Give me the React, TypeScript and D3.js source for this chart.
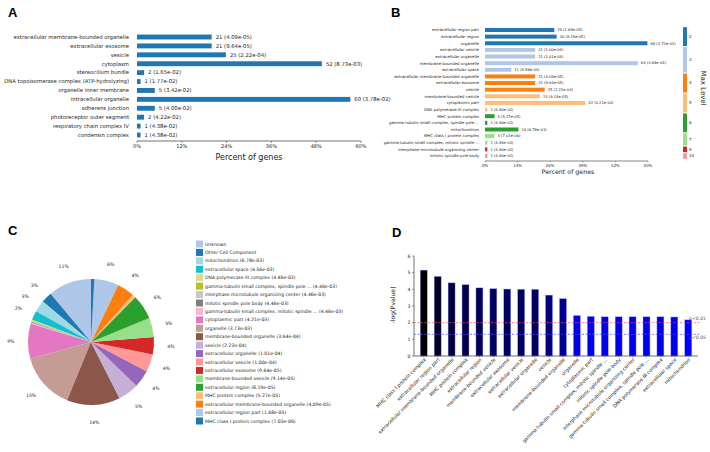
import React, { useRef, useEffect } from 'react';
import * as d3 from 'd3';

const FONT = "DejaVu Sans";
const totalGenes = 105;

// Panel A
const aTerms = [
  "extracellular membrane-bounded organelle", "extracellular exosome", "vesicle", "cytoplasm",
  "stereocilium bundle", "DNA topoisomerase complex (ATP-hydrolyzing)", "organelle inner membrane",
  "intracellular organelle", "adherens junction", "photoreceptor outer segment",
  "respiratory chain complex IV", "condensin complex"
];
const aCounts = [21, 21, 25, 52, 2, 1, 5, 60, 5, 2, 1, 1];
const aPvals = ["4.09e-05", "9.64e-05", "2.22e-04", "8.73e-03", "1.65e-02", "1.77e-02", "3.42e-02",
  "3.78e-02", "4.00e-02", "4.22e-02", "4.38e-02", "4.38e-02"];
const aTicks = [0, 12, 24, 36, 48, 60];

// Panel B
const bTerms = [
  "extracellular region part", "extracellular region", "organelle", "extracellular vesicle",
  "extracellular organelle", "membrane-bounded organelle", "extracellular space",
  "extracellular membrane-bounded organelle", "extracellular exosome", "vesicle",
  "membrane-bounded vesicle", "cytoplasmic part", "DNA polymerase III complex", "MHC protein complex",
  "gamma-tubulin small complex, spindle pole ...", "mitochondrion", "MHC class I protein complex",
  "gamma-tubulin small complex, mitotic spindle ...", "interphase microtubule organizing center",
  "mitotic spindle pole body"
];
const bCounts = [29, 30, 68, 21, 21, 64, 11, 21, 21, 25, 23, 42, 1, 4, 1, 14, 4, 1, 1, 1];
const bPvals = ["1.68e-05", "8.19e-05", "3.73e-03", "1.00e-04", "1.01e-04", "3.64e-04", "4.56e-03",
  "4.09e-05", "9.64e-05", "2.22e-04", "9.14e-05", "4.21e-03", "4.46e-03", "5.27e-05", "4.46e-03",
  "6.78e-03", "7.03e-06", "4.46e-03", "4.46e-03", "4.46e-03"];
const bLevels = [2, 2, 2, 3, 3, 3, 3, 4, 4, 4, 5, 5, 5, 6, 6, 6, 7, 7, 9, 10];
const bTicks = [0, 13, 26, 39, 52, 65];
const levelNames = [2, 3, 4, 5, 6, 7, 9, 10];
const levelColors = ["#1f77b4", "#aec7e8", "#ff7f0e", "#ffbb78", "#2ca02c", "#98df8a", "#d62728", "#ff9896"];

// Panel C
const pieLabels = [
  "Unknown", "Other Cell Component", "mitochondrion (6.78e-03)", "extracellular space (4.56e-03)",
  "DNA polymerase III complex (4.46e-03)", "gamma-tubulin small complex, spindle pole ... (4.46e-03)",
  "interphase microtubule organizing center (4.46e-03)", "mitotic spindle pole body (4.46e-03)",
  "gamma-tubulin small complex, mitotic spindle ... (4.46e-03)", "cytoplasmic part (4.21e-03)",
  "organelle (3.73e-03)", "membrane-bounded organelle (3.64e-04)", "vesicle (2.22e-04)",
  "extracellular organelle (1.01e-04)", "extracellular vesicle (1.00e-04)",
  "extracellular exosome (9.64e-05)", "membrane-bounded vesicle (9.14e-05)",
  "extracellular region (8.19e-05)", "MHC protein complex (5.27e-05)",
  "extracellular membrane-bounded organelle (4.09e-05)", "extracellular region part (1.68e-05)",
  "MHC class I protein complex (7.03e-06)"
];
const pieCounts = [52, 13, 14, 11, 1, 1, 1, 1, 1, 42, 68, 64, 25, 21, 21, 21, 23, 30, 4, 21, 29, 4];
const pieColors = ["#aec7e8", "#1f77b4", "#9edae5", "#17becf", "#dbdb8d", "#bcbd22", "#c7c7c7", "#7f7f7f",
  "#f7b6d2", "#e377c2", "#c49c94", "#8c564b", "#c5b0d5", "#9467bd", "#ff9896", "#d62728", "#98df8a",
  "#2ca02c", "#ffbb78", "#ff7f0e", "#aec7e8", "#1f77b4"];

// Panel D
const dTerms = [
  "MHC class I protein complex", "extracellular region part", "extracellular membrane-bounded organelle",
  "MHC protein complex", "extracellular region", "membrane-bounded vesicle", "extracellular exosome",
  "extracellular vesicle", "extracellular organelle", "vesicle", "membrane-bounded organelle", "organelle",
  "cytoplasmic part", "gamma-tubulin small complex, mitotic spindle ...", "mitotic spindle pole body",
  "interphase microtubule organizing center", "gamma-tubulin small complex, spindle pole ...",
  "DNA polymerase III complex", "extracellular space", "mitochondrion"
];
const dPvals = [7.03e-06, 1.68e-05, 4.09e-05, 5.27e-05, 8.19e-05, 9.14e-05, 9.64e-05, 1.00e-04, 1.01e-04,
  2.22e-04, 3.64e-04, 3.73e-03, 4.21e-03, 4.46e-03, 4.46e-03, 4.46e-03, 4.46e-03, 4.46e-03, 4.56e-03, 6.78e-03];
const dTicks = [0, 1, 2, 3, 4, 5, 6];

const App = () => {
  const svgRef = useRef<SVGSVGElement>(null);

  useEffect(() => {
    const svg = d3.select(svgRef.current);
    svg.selectAll("*").remove();
    svg.append("rect").attr("width", 710).attr("height", 452).attr("fill", "white");

    const letter = (t: string, x: number, y: number) =>
      svg.append("text").attr("x", x).attr("y", y).text(t)
        .attr("font-family", "Liberation Sans").attr("font-weight", "bold").attr("font-size", 13);

    // ---------- A ----------
    letter("A", 8, 17);
    const ax = d3.scaleLinear().domain([0, 60]).range([137, 361]);
    const ay = d3.scalePoint<number>().domain(aTerms.map((_, i) => i)).range([37, 135]);
    const aH = ay.step() * 0.55;
    const gA = svg.append("g").attr("font-family", FONT);
    aTerms.forEach((t, i) => {
      const pct = aCounts[i] / totalGenes * 100;
      const cy = ay(i)!;
      gA.append("rect").attr("x", ax(0)).attr("y", cy - aH / 2)
        .attr("width", ax(pct) - ax(0)).attr("height", aH).attr("fill", "#1f77b4");
      gA.append("text").attr("x", 129).attr("y", cy).attr("dy", "0.35em")
        .attr("text-anchor", "end").attr("font-size", 5.3).attr("fill", "#222").text(t);
      gA.append("text").attr("x", ax(pct) + 4).attr("y", cy).attr("dy", "0.35em")
        .attr("font-size", 5.3).attr("fill", "#222").text(`${aCounts[i]} (${aPvals[i]})`);
    });
    gA.append("line").attr("x1", ax(0)).attr("x2", ax(60)).attr("y1", 141).attr("y2", 141)
      .attr("stroke", "#333").attr("stroke-width", 0.7);
    aTicks.forEach(t => {
      gA.append("line").attr("x1", ax(t)).attr("x2", ax(t)).attr("y1", 141).attr("y2", 143)
        .attr("stroke", "#333").attr("stroke-width", 0.5);
      gA.append("text").attr("x", ax(t)).attr("y", 148).attr("text-anchor", "middle")
        .attr("font-size", 5).attr("fill", "#222").text(`${t}%`);
    });
    gA.append("text").attr("x", 249).attr("y", 160).attr("text-anchor", "middle")
      .attr("font-size", 8).attr("fill", "#222").text("Percent of genes");

    // ---------- B ----------
    letter("B", 391, 17);
    const bx = d3.scaleLinear().domain([0, 65]).range([485, 648]);
    const by = d3.scalePoint<number>().domain(bTerms.map((_, i) => i)).range([30, 156]);
    const bStep = by.step();
    const bH = bStep * 0.6;
    const colorOf = d3.scaleOrdinal<number, string>().domain(levelNames).range(levelColors);
    const gB = svg.append("g").attr("font-family", FONT);
    bTerms.forEach((t, i) => {
      const pct = bCounts[i] / totalGenes * 100;
      const cy = by(i)!;
      gB.append("rect").attr("x", bx(0)).attr("y", cy - bH / 2)
        .attr("width", bx(pct) - bx(0)).attr("height", bH).attr("fill", colorOf(bLevels[i]));
      gB.append("text").attr("x", 479).attr("y", cy).attr("dy", "0.35em")
        .attr("text-anchor", "end").attr("font-size", 3.9).attr("fill", "#222").text(t);
      gB.append("text").attr("x", bx(pct) + 3).attr("y", cy).attr("dy", "0.35em")
        .attr("font-size", 3.7).attr("fill", "#222").text(`${bCounts[i]} (${bPvals[i]})`);
    });
    gB.append("line").attr("x1", bx(0)).attr("x2", bx(65)).attr("y1", 161).attr("y2", 161)
      .attr("stroke", "#333").attr("stroke-width", 0.6);
    bTicks.forEach(t => {
      gB.append("line").attr("x1", bx(t)).attr("x2", bx(t)).attr("y1", 161).attr("y2", 162.5)
        .attr("stroke", "#333").attr("stroke-width", 0.4);
      gB.append("text").attr("x", bx(t)).attr("y", 166.5).attr("text-anchor", "middle")
        .attr("font-size", 3.9).attr("fill", "#222").text(`${t}%`);
    });
    gB.append("text").attr("x", 568).attr("y", 174).attr("text-anchor", "middle")
      .attr("font-size", 6.3).attr("fill", "#222").text("Percent of genes");
    // colour bar of max level
    levelNames.forEach(lv => {
      const idx = bLevels.map((l, i) => (l === lv ? i : -1)).filter(i => i >= 0);
      const y0 = by(idx[0])! - bStep / 2 + 0.5;
      const y1 = by(idx[idx.length - 1])! + bStep / 2 - 0.5;
      gB.append("rect").attr("x", 683).attr("y", y0).attr("width", 4).attr("height", y1 - y0)
        .attr("fill", colorOf(lv));
      gB.append("text").attr("x", 689).attr("y", (y0 + y1) / 2).attr("dy", "0.35em")
        .attr("font-size", 4).attr("fill", "#222").text(lv);
    });
    gB.append("text").attr("transform", "translate(701,88) rotate(90)").attr("text-anchor", "middle")
      .attr("font-size", 7).attr("fill", "#222").text("Max Level");

    // ---------- C ----------
    letter("C", 8, 235);
    const cx = 91, cy = 342, r = 63;
    const pieTotal = d3.sum(pieCounts);
    const pie = d3.pie<number>().sort(null).value(d => pieCounts[d])
      .startAngle(0).endAngle(-2 * Math.PI);
    const arcs = pie(pieCounts.map((_, i) => i));
    const arc = d3.arc<d3.PieArcDatum<number>>().innerRadius(0).outerRadius(r);
    const labelArc = d3.arc<d3.PieArcDatum<number>>().innerRadius(r * 1.27).outerRadius(r * 1.27);
    const gC = svg.append("g").attr("transform", `translate(${cx},${cy})`).attr("font-family", FONT);
    gC.selectAll("path").data(arcs).enter().append("path")
      .attr("d", arc).attr("fill", d => pieColors[d.data]);
    arcs.forEach(d => {
      const pct = pieCounts[d.data] / pieTotal * 100;
      if (pct < 1.5) return;
      const [lx, ly] = labelArc.centroid(d);
      gC.append("text").attr("x", lx).attr("y", ly).attr("dy", "0.35em").attr("text-anchor", "middle")
        .attr("font-size", 4.6).attr("fill", "#222").text(`${Math.round(pct)}%`);
    });
    const gL = svg.append("g").attr("font-family", FONT);
    const ly = d3.scalePoint<number>().domain(pieLabels.map((_, i) => i)).range([244, 421]);
    pieLabels.forEach((t, i) => {
      gL.append("rect").attr("x", 196).attr("y", ly(i)! - 3.5).attr("width", 7).attr("height", 7)
        .attr("fill", pieColors[i]);
      gL.append("text").attr("x", 205).attr("y", ly(i)!).attr("dy", "0.35em")
        .attr("font-size", 4.6).attr("fill", "#222").text(t);
    });

    // ---------- D ----------
    letter("D", 392, 237);
    const dVals = dPvals.map(p => -Math.log10(p));
    const dx = d3.scaleBand<string>().domain(dTerms).range([414, 698]).paddingInner(0.5).paddingOuter(0.45);
    const dy = d3.scaleLinear().domain([0, 6]).range([356, 256]);
    const dColor = d3.scaleLinear<string>().domain([d3.max(dVals)!, d3.min(dVals)!])
      .range(["#000000", "#0000ff"]);
    const gD = svg.append("g").attr("font-family", FONT);
    dTerms.forEach((t, i) => {
      gD.append("rect").attr("x", dx(t)!).attr("y", dy(dVals[i]))
        .attr("width", dx.bandwidth()).attr("height", dy(0) - dy(dVals[i]))
        .attr("fill", dColor(dVals[i])).attr("stroke", "#9a9aff").attr("stroke-width", 0.4);
      const xc = dx(t)! + dx.bandwidth() / 2;
      gD.append("line").attr("x1", xc).attr("x2", xc).attr("y1", 356).attr("y2", 357.5)
        .attr("stroke", "#333").attr("stroke-width", 0.4);
      gD.append("text").attr("transform", `translate(${xc + 2.5},${360}) rotate(-45)`)
        .attr("text-anchor", "end").attr("font-size", 4.8).attr("fill", "#222").text(t);
    });
    gD.append("line").attr("x1", 414).attr("x2", 414).attr("y1", dy(6)).attr("y2", dy(0))
      .attr("stroke", "#333").attr("stroke-width", 0.7);
    gD.append("line").attr("x1", 414).attr("x2", 698).attr("y1", dy(0)).attr("y2", dy(0))
      .attr("stroke", "#333").attr("stroke-width", 0.7);
    dTicks.forEach(t => {
      gD.append("line").attr("x1", 412).attr("x2", 414).attr("y1", dy(t)).attr("y2", dy(t))
        .attr("stroke", "#333").attr("stroke-width", 0.5);
      gD.append("text").attr("x", 410.5).attr("y", dy(t)).attr("dy", "0.35em").attr("text-anchor", "end")
        .attr("font-size", 4.6).attr("fill", "#222").text(t);
    });
    gD.append("line").attr("x1", 414).attr("x2", 701).attr("y1", dy(2)).attr("y2", dy(2))
      .attr("stroke", "#ff5050").attr("stroke-width", 0.7).attr("stroke-dasharray", "2,1.5");
    gD.append("line").attr("x1", 414).attr("x2", 701).attr("y1", dy(-Math.log10(0.05))).attr("y2", dy(-Math.log10(0.05)))
      .attr("stroke", "#5050ff").attr("stroke-width", 0.7).attr("stroke-dasharray", "2,1.5");
    gD.append("text").attr("x", 689).attr("y", dy(2) - 4.5).attr("dy", "0.35em")
      .attr("font-size", 4.6).attr("fill", "#555").text("p<0.01");
    gD.append("text").attr("x", 689).attr("y", dy(-Math.log10(0.05)) + 3).attr("dy", "0.35em")
      .attr("font-size", 4.6).attr("fill", "#555").text("p<0.05");
    gD.append("text").attr("transform", "translate(395,305) rotate(-90)").attr("text-anchor", "middle")
      .attr("font-size", 6.2).attr("fill", "#222").text("-log(Pvalue)");
  }, []);

  return (
    <svg ref={svgRef} width={710} height={452}
      style={{ position: "absolute", left: 0, top: 0, display: "block" }} />
  );
};

export default App;
